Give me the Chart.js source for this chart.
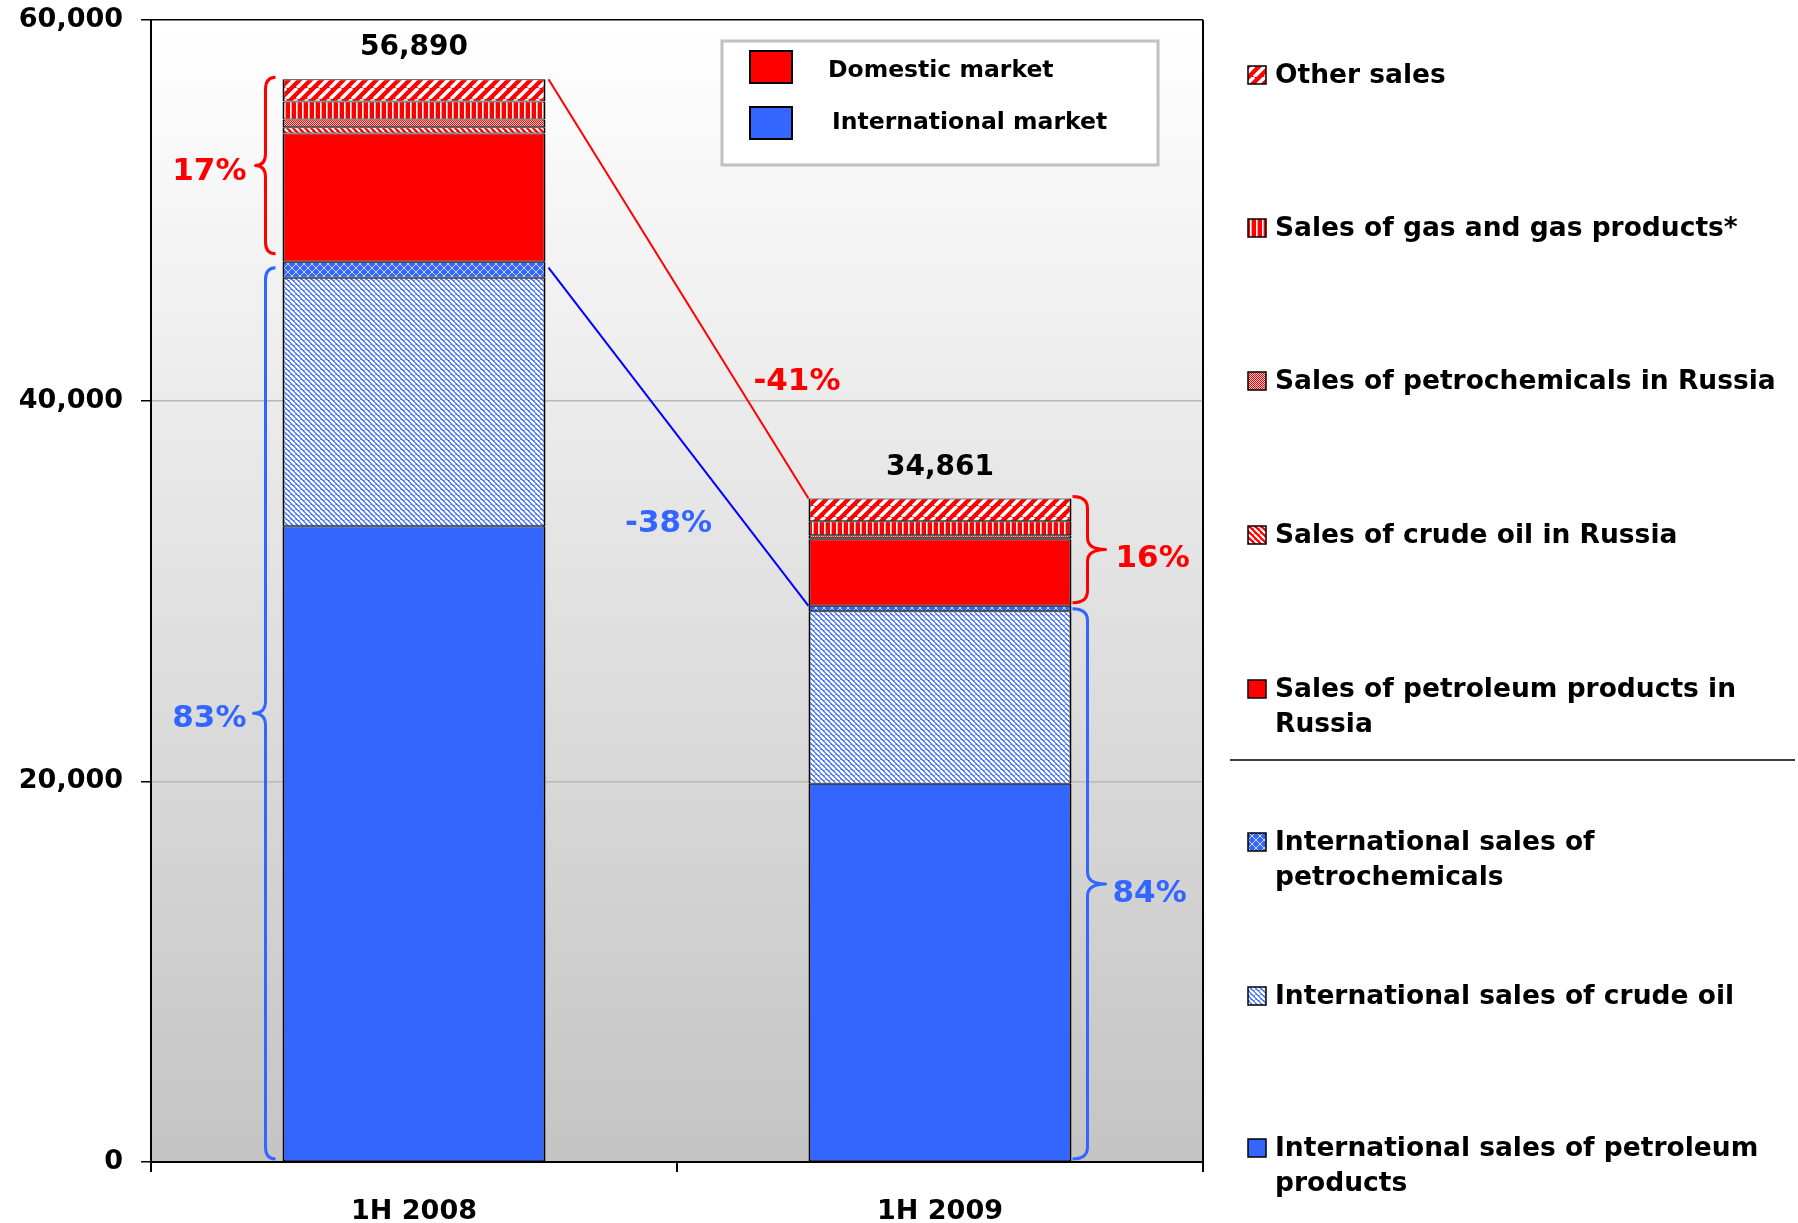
<!DOCTYPE html>
<html>
<head>
<meta charset="utf-8">
<title>Sales revenues 1H 2008 / 1H 2009</title>
<script src="https://cdn.jsdelivr.net/npm/chart.js@4.4.1/dist/chart.umd.min.js"></script>
<style>
  html, body { margin: 0; padding: 0; background: #ffffff; }
  #wrap { width: 1798px; height: 1223px; }
</style>
</head>
<body>
<div id="wrap"><canvas id="mycanvas" width="1798" height="1223"></canvas></div>
<script>
// half-year revenue, by sales type
var categories = ['1H 2008', '1H 2009'];

var otherSales       = [1173, 1193];
var gasSales         = [947, 736];
var petrochemRussia  = [405, 158];
var crudeRussia      = [331, 50];
var petroleumRussia  = [6731, 3500];
var intlPetrochem    = [841, 284];
var intlCrude        = [13062, 9072];
var intlPetroleum    = [33400, 19868];

var yTicks = [0, 20000, 40000, 60000];

var FONT = 'Verdana, "DejaVu Sans", sans-serif';
var RED = '#ff0000';
var BLUE = '#3366ff';

var canvas = document.getElementById('mycanvas');
var ctx = canvas.getContext('2d');

// hatch fills
function tile(w, h, paint) {
  var c = document.createElement('canvas');
  c.width = w; c.height = h;
  var g = c.getContext('2d');
  paint(g, w, h);
  return ctx.createPattern(c, 'repeat');
}
function diagonal(bg, fg, size, lw, dir) {
  return tile(size, size, function(g, w) {
    g.fillStyle = bg; g.fillRect(0, 0, w, w);
    g.strokeStyle = fg; g.lineWidth = lw;
    g.beginPath();
    for (var k = -1; k <= 1; k++) {
      if (dir === '/') { g.moveTo(k * w, w); g.lineTo(k * w + w, 0); }
      else { g.moveTo(k * w, 0); g.lineTo(k * w + w, w); }
    }
    g.stroke();
  });
}
var patOther = diagonal(RED, '#ffffff', 11, 3.5, '/');
var patGas = tile(6, 6, function(g, w, h) {
  g.fillStyle = RED; g.fillRect(0, 0, w, h);
  g.fillStyle = '#ffffff'; g.fillRect(2, 0, 1.6, h);
});
var patPetroRu = tile(2, 2, function(g) {
  g.fillStyle = RED; g.fillRect(0, 0, 2, 2);
  g.fillStyle = '#ffd0d0'; g.fillRect(1, 0, 1, 1); g.fillRect(0, 1, 1, 1);
});
var patCrudeRu = diagonal(RED, '#ffffff', 6, 2, '\\');
var patIntlPetro = tile(8, 8, function(g) {
  g.fillStyle = BLUE; g.fillRect(0, 0, 8, 8);
  g.fillStyle = 'rgba(255,255,255,0.75)';
  for (var i = 0; i < 8; i++) { g.fillRect(i, i, 1, 1); g.fillRect(7 - i, i, 1, 1); }
});
var patIntlCrude = diagonal(BLUE, '#ffffff', 5, 2.3, '\\');

function ds(label, data, fill) {
  return {
    label: label,
    data: data,
    backgroundColor: fill,
    borderColor: '#000000',
    borderWidth: { top: 1, bottom: 1, left: 2, right: 2 },
    borderSkipped: false,
    categoryPercentage: 1,
    barPercentage: 0.5
  };
}

// stacked bottom-up
var datasets = [
  ds('International sales of petroleum products', intlPetroleum, BLUE),
  ds('International sales of crude oil', intlCrude, patIntlCrude),
  ds('International sales of petrochemicals', intlPetrochem, patIntlPetro),
  ds('Sales of petroleum products in Russia', petroleumRussia, RED),
  ds('Sales of crude oil in Russia', crudeRussia, patCrudeRu),
  ds('Sales of petrochemicals in Russia', petrochemRussia, patPetroRu),
  ds('Sales of gas and gas products*', gasSales, patGas),
  ds('Other sales', otherSales, patOther)
];

function sumAt(i, from, to) {
  var s = 0;
  for (var d = from; d < to; d++) s += datasets[d].data[i];
  return s;
}
function pct(v) { return Math.round(v * 100) + '%'; }
function change(a, b) { var v = Math.round((b / a - 1) * 100); return (v > 0 ? '+' : '') + v + '%'; }

function brace(c, x, y1, y2, endW, tipW, dir) {
  var r = 12, mid = (y1 + y2) / 2;
  c.beginPath();
  c.moveTo(x - dir * endW, y1);
  c.quadraticCurveTo(x, y1, x, y1 + r);
  c.lineTo(x, mid - r);
  c.quadraticCurveTo(x, mid, x + dir * tipW, mid);
  c.quadraticCurveTo(x, mid, x, mid + r);
  c.lineTo(x, y2 - r);
  c.quadraticCurveTo(x, y2, x - dir * endW, y2);
  c.stroke();
}

var plotBackground = {
  id: 'plotBackground',
  beforeDraw: function(chart) {
    var a = chart.chartArea, c = chart.ctx;
    var g = c.createLinearGradient(0, a.top, 0, a.bottom);
    g.addColorStop(0, '#ffffff');
    g.addColorStop(1, '#c4c4c4');
    c.save();
    c.fillStyle = g;
    c.fillRect(a.left, a.top, a.right - a.left, a.bottom - a.top);
    c.restore();
  }
};

var annotations = {
  id: 'annotations',
  afterDatasetsDraw: function(chart) {
    var c = chart.ctx, a = chart.chartArea;
    var xs = chart.scales.x, ys = chart.scales.y;
    var bars = chart.getDatasetMeta(0).data;
    var n = datasets.length;

    c.save();
    // right border of the plot
    c.strokeStyle = '#000000'; c.lineWidth = 2;
    c.beginPath(); c.moveTo(a.right, a.top); c.lineTo(a.right, a.bottom); c.stroke();

    var tot = [], intl = [], dom = [];
    for (var i = 0; i < categories.length; i++) {
      tot.push(sumAt(i, 0, n));
      intl.push(sumAt(i, 0, 3));
      dom.push(sumAt(i, 3, n));
    }
    var l0 = bars[0].x - bars[0].width / 2, r0 = bars[0].x + bars[0].width / 2;
    var l1 = bars[1].x - bars[1].width / 2, r1 = bars[1].x + bars[1].width / 2;

    // connectors between the two bars
    c.lineWidth = 2;
    c.strokeStyle = RED;
    c.beginPath(); c.moveTo(r0 + 3, ys.getPixelForValue(tot[0])); c.lineTo(l1, ys.getPixelForValue(tot[1])); c.stroke();
    c.strokeStyle = '#0000ff';
    c.beginPath(); c.moveTo(r0 + 3, ys.getPixelForValue(intl[0]) + 6); c.lineTo(l1, ys.getPixelForValue(intl[1])); c.stroke();

    // braces
    c.lineWidth = 3;
    c.lineJoin = 'round';
    c.strokeStyle = RED;
    brace(c, l0 - 17, ys.getPixelForValue(tot[0]) - 2, ys.getPixelForValue(intl[0]) - 8, 10, 10, -1);
    brace(c, r1 + 16, ys.getPixelForValue(tot[1]) - 2, ys.getPixelForValue(intl[1]) - 3, 15, 18, 1);
    c.strokeStyle = BLUE;
    brace(c, l0 - 17, ys.getPixelForValue(intl[0]) + 6, ys.getPixelForValue(0) - 3, 10, 12, -1);
    brace(c, r1 + 16, ys.getPixelForValue(intl[1]) + 3, ys.getPixelForValue(0) - 3, 15, 18, 1);

    // shares
    c.font = 'bold 31px ' + FONT;
    c.textBaseline = 'middle';
    c.textAlign = 'right';
    c.fillStyle = RED;
    c.fillText(pct(dom[0] / tot[0]), l0 - 36, (ys.getPixelForValue(tot[0]) + ys.getPixelForValue(intl[0])) / 2 + 2);
    c.fillStyle = BLUE;
    c.fillText(pct(intl[0] / tot[0]), l0 - 36, ys.getPixelForValue(intl[0] / 2) + 7);
    c.textAlign = 'left';
    c.fillStyle = RED;
    c.fillText(pct(dom[1] / tot[1]), r1 + 44, (ys.getPixelForValue(tot[1]) + ys.getPixelForValue(intl[1])) / 2 + 7);
    c.fillStyle = BLUE;
    c.fillText(pct(intl[1] / tot[1]), r1 + 41, ys.getPixelForValue(intl[1] / 2) + 10);

    // year-on-year change
    c.textAlign = 'center';
    c.fillStyle = RED;
    c.fillText(change(dom[0], dom[1]), xs.getPixelForValue(0.728), ys.getPixelForValue(41000));
    c.fillStyle = BLUE;
    c.fillText(change(intl[0], intl[1]), xs.getPixelForValue(0.484), ys.getPixelForValue(33500));

    // totals above the bars
    c.font = 'bold 28px ' + FONT;
    c.fillStyle = '#000000';
    for (var j = 0; j < categories.length; j++) {
      c.fillText(tot[j].toLocaleString('en-US'), bars[j].x, ys.getPixelForValue(tot[j]) - 31);
    }
    c.restore();
  },
  afterDraw: function(chart) {
    var c = chart.ctx;
    c.save();

    // market key inside the plot
    c.fillStyle = '#ffffff';
    c.fillRect(722, 41, 436, 124);
    c.strokeStyle = '#c0c0c0'; c.lineWidth = 3;
    c.strokeRect(722, 41, 436, 124);
    c.lineWidth = 2; c.strokeStyle = '#000000';
    c.fillStyle = RED; c.fillRect(750, 51, 42, 32); c.strokeRect(750, 51, 42, 32);
    c.fillStyle = BLUE; c.fillRect(750, 107, 42, 32); c.strokeRect(750, 107, 42, 32);
    c.font = 'bold 23.5px ' + FONT;
    c.fillStyle = '#000000';
    c.textBaseline = 'middle'; c.textAlign = 'left';
    c.fillText('Domestic market', 828, 71);
    c.fillText('International market', 832, 123);

    // series legend on the right, top of stack first
    var rowY = [75, 228, 381, 535, 689, 842, 996, 1148];
    var order = datasets.slice().reverse();
    c.font = 'bold 26.5px ' + FONT;
    for (var i = 0; i < order.length; i++) {
      var y = rowY[i];
      c.fillStyle = order[i].backgroundColor;
      c.fillRect(1248, y - 9, 18, 18);
      c.strokeStyle = '#000000'; c.lineWidth = 1.5;
      c.strokeRect(1248, y - 9, 18, 18);
      // wrap long labels
      var words = order[i].label.split(' '), line = '', lines = [];
      for (var w = 0; w < words.length; w++) {
        var test = line ? line + ' ' + words[w] : words[w];
        if (c.measureText(test).width > 512 && line) { lines.push(line); line = words[w]; }
        else line = test;
      }
      lines.push(line);
      c.fillStyle = '#000000';
      for (var k = 0; k < lines.length; k++) c.fillText(lines[k], 1275, y + 1 + k * 35);
    }
    // divider between domestic and international items
    c.strokeStyle = '#404040'; c.lineWidth = 2;
    c.beginPath(); c.moveTo(1230, 760); c.lineTo(1795, 760); c.stroke();
    c.restore();
  }
};

var myChart = new Chart(ctx, {
  type: 'bar',
  data: { labels: categories, datasets: datasets },
  options: {
    responsive: false,
    devicePixelRatio: 1,
    animation: false,
    layout: { padding: { top: 20, right: 595, left: 0, bottom: 0 } },
    plugins: { legend: { display: false }, tooltip: { enabled: false } },
    scales: {
      x: {
        stacked: true,
        grid: { drawOnChartArea: false, offset: true, tickLength: 10, color: '#000000', lineWidth: 2 },
        border: { color: '#000000', width: 2 },
        ticks: { color: '#000000', font: { family: FONT, size: 27, weight: 'bold' }, padding: 24 },
        afterFit: function(s) { s.height = 61; s.paddingLeft = 0; s.paddingRight = 0; }
      },
      y: {
        stacked: true,
        min: yTicks[0],
        max: yTicks[yTicks.length - 1],
        afterBuildTicks: function(s) { s.ticks = yTicks.map(function(v) { return { value: v }; }); },
        grid: {
          color: function(c) { return c.tick && c.tick.value === 60000 ? '#000000' : '#b8b8b8'; },
          tickColor: '#000000', tickLength: 10, lineWidth: 1.5
        },
        border: { color: '#000000', width: 2 },
        ticks: {
          color: '#000000', font: { family: FONT, size: 27, weight: 'bold' }, padding: 18,
          callback: function(v) { return v.toLocaleString('en-US'); }
        },
        afterFit: function(s) { s.width = 151; s.paddingTop = 0; s.paddingBottom = 0; }
      }
    }
  },
  plugins: [plotBackground, annotations]
});
</script>
</body>
</html>
